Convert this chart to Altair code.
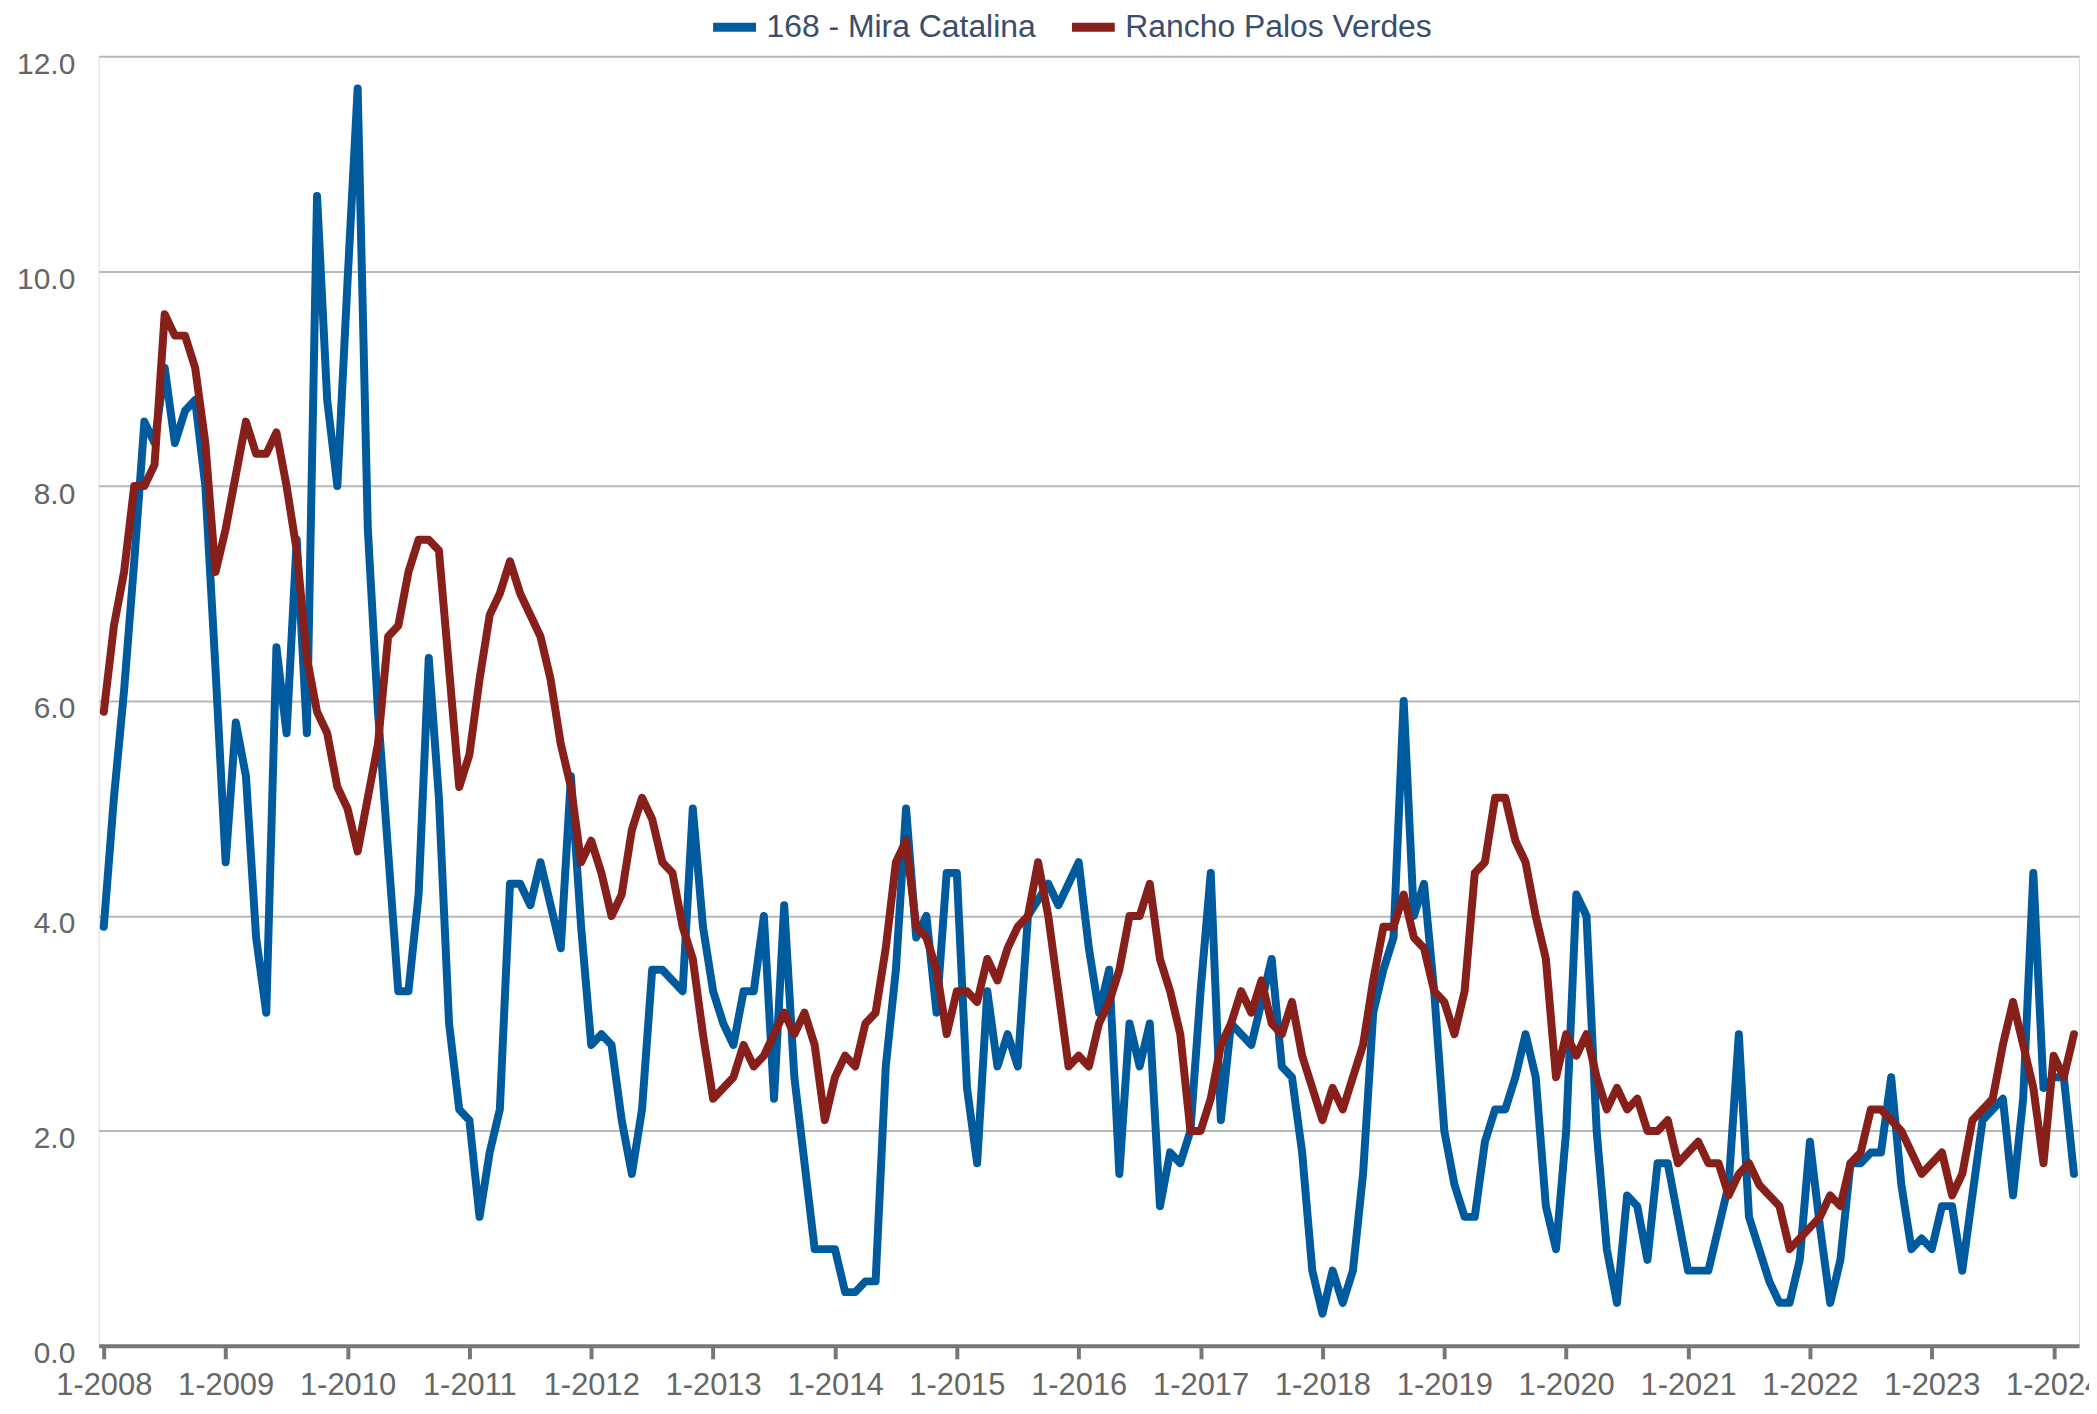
import altair as alt
import pandas as pd

SERIES_A = "168 - Mira Catalina"
SERIES_B = "Rancho Palos Verdes"

# monthly values, 1-2008 .. 3-2024
mira = [
    3.9, 5.1, 6.1, 7.3, 8.6, 8.4, 9.1, 8.4, 8.7, 8.8, 8.0, 6.3,
    4.5, 5.8, 5.3, 3.8, 3.1, 6.5, 5.7, 7.5, 5.7, 10.7, 8.8, 8.0,
    9.9, 11.7, 7.6, 5.9, 4.6, 3.3, 3.3, 4.2, 6.4, 5.1, 3.0, 2.2,
    2.1, 1.2, 1.8, 2.2, 4.3, 4.3, 4.1, 4.5, 4.1, 3.7, 5.3, 3.9,
    2.8, 2.9, 2.8, 2.1, 1.6, 2.2, 3.5, 3.5, 3.4, 3.3, 5.0, 3.9,
    3.3, 3.0, 2.8, 3.3, 3.3, 4.0, 2.3, 4.1, 2.5, 1.7, 0.9, 0.9,
    0.9, 0.5, 0.5, 0.6, 0.6, 2.6, 3.5, 5.0, 3.8, 4.0, 3.1, 4.4,
    4.4, 2.4, 1.7, 3.3, 2.6, 2.9, 2.6, 4.0, 4.15, 4.3, 4.1, 4.3,
    4.5, 3.7, 3.1, 3.5, 1.6, 3.0, 2.6, 3.0, 1.3, 1.8, 1.7, 2.0,
    3.3, 4.4, 2.1, 3.0, 2.9, 2.8, 3.2, 3.6, 2.6, 2.5, 1.8, 0.7,
    0.3, 0.7, 0.4, 0.7, 1.6, 3.1, 3.5, 3.8, 6.0, 4.0, 4.3, 3.3,
    2.0, 1.5, 1.2, 1.2, 1.9, 2.2, 2.2, 2.5, 2.9, 2.5, 1.3, 0.9,
    2.0, 4.2, 4.0, 2.0, 0.9, 0.4, 1.4, 1.3, 0.8, 1.7, 1.7, 1.2,
    0.7, 0.7, 0.7, 1.1, 1.5, 2.9, 1.2, 0.9, 0.6, 0.4, 0.4, 0.8,
    1.9, 1.1, 0.4, 0.8, 1.7, 1.7, 1.8, 1.8, 2.5, 1.5, 0.9, 1.0,
    0.9, 1.3, 1.3, 0.7, 1.4, 2.1, 2.2, 2.3, 1.4, 2.3, 4.4, 2.4,
    2.5, 2.5, 1.6,
]

rancho = [
    5.9, 6.7, 7.2, 8.0, 8.0, 8.2, 9.6, 9.4, 9.4, 9.1, 8.4, 7.2,
    7.6, 8.1, 8.6, 8.3, 8.3, 8.5, 8.0, 7.4, 6.4, 5.9, 5.7, 5.2,
    5.0, 4.6, 5.1, 5.6, 6.6, 6.7, 7.2, 7.5, 7.5, 7.4, 6.3, 5.2,
    5.5, 6.2, 6.8, 7.0, 7.3, 7.0, 6.8, 6.6, 6.2, 5.6, 5.2, 4.5,
    4.7, 4.4, 4.0, 4.2, 4.8, 5.1, 4.9, 4.5, 4.4, 3.9, 3.6, 2.9,
    2.3, 2.4, 2.5, 2.8, 2.6, 2.7, 2.9, 3.1, 2.9, 3.1, 2.8, 2.1,
    2.5, 2.7, 2.6, 3.0, 3.1, 3.7, 4.5, 4.7, 3.9, 3.8, 3.5, 2.9,
    3.3, 3.3, 3.2, 3.6, 3.4, 3.7, 3.9, 4.0, 4.5, 4.0, 3.3, 2.6,
    2.7, 2.6, 3.0, 3.2, 3.5, 4.0, 4.0, 4.3, 3.6, 3.3, 2.9, 2.0,
    2.0, 2.3, 2.8, 3.0, 3.3, 3.1, 3.4, 3.0, 2.9, 3.2, 2.7, 2.4,
    2.1, 2.4, 2.2, 2.5, 2.8, 3.4, 3.9, 3.9, 4.2, 3.8, 3.7, 3.3,
    3.2, 2.9, 3.3, 4.4, 4.5, 5.1, 5.1, 4.7, 4.5, 4.0, 3.6, 2.5,
    2.9, 2.7, 2.9, 2.5, 2.2, 2.4, 2.2, 2.3, 2.0, 2.0, 2.1, 1.7,
    1.8, 1.9, 1.7, 1.7, 1.4, 1.6, 1.7, 1.5, 1.4, 1.3, 0.9, 1.0,
    1.1, 1.2, 1.4, 1.3, 1.7, 1.8, 2.2, 2.2, 2.1, 2.0, 1.8, 1.6,
    1.7, 1.8, 1.4, 1.6, 2.1, 2.2, 2.3, 2.8, 3.2, 2.8, 2.4, 1.7,
    2.7, 2.5, 2.9,
]

START_YEAR = 2008
tick_months = list(range(0, len(mira), 12))
y_ticks = [0, 2, 4, 6, 8, 10, 12]

rows = []
for i, v in enumerate(mira):
    rows.append({"m": i, "series": SERIES_A, "value": v})
for i, v in enumerate(rancho):
    rows.append({"m": i, "series": SERIES_B, "value": v})
df = pd.DataFrame(rows)

FONT = "Liberation Sans"

chart = (
    alt.Chart(df)
    .mark_line(strokeWidth=8, strokeJoin="round", strokeCap="round")
    .encode(
        x=alt.X(
            "m:Q",
            scale=alt.Scale(domain=[-0.5, len(mira) - 0.5], nice=False, zero=False),
            axis=alt.Axis(
                values=tick_months,
                labelExpr=f"'1-' + ({START_YEAR} + floor(datum.value / 12))",
                title=None,
                grid=False,
                domainColor="#777777",
                domainWidth=4,
                tickColor="#777777",
                tickWidth=4,
                tickSize=13,
                labelFont=FONT,
                labelFontSize=31,
                labelColor="#666666",
                labelPadding=12,
                labelFlush=False,
                labelOverlap=False,
                labelBound=False,
            ),
        ),
        y=alt.Y(
            "value:Q",
            scale=alt.Scale(domain=[0, 12], nice=False),
            axis=alt.Axis(
                values=y_ticks,
                format=".1f",
                title=None,
                grid=True,
                gridColor="#b8b8b8",
                gridWidth=2,
                domain=False,
                ticks=False,
                tickSize=0,
                labelFont=FONT,
                labelFontSize=30,
                labelColor="#666666",
                labelPadding=24,
                labelOffset=8,
            ),
        ),
        color=alt.Color(
            "series:N",
            scale=alt.Scale(domain=[SERIES_A, SERIES_B], range=["#005a9e", "#871f1b"]),
            legend=alt.Legend(
                orient="none",
                legendX=612,
                legendY=-55,
                direction="horizontal",
                title=None,
                symbolType="stroke",
                symbolStrokeWidth=9,
                symbolSize=1849,
                labelFont=FONT,
                labelFontSize=32,
                labelColor="#3a4d6b",
                labelOffset=6,
                columnPadding=17,
                padding=0,
                labelLimit=0,
            ),
        ),
        order=alt.Order("m:Q"),
    )
    .properties(
        width=1987,
        height=1294,
        autosize=alt.AutoSizeParams(type="none"),
        padding={"left": 91, "top": 46, "right": 10, "bottom": 57},
    )
    .configure_view(stroke=None)
    .configure(background="white")
)

chart.save("out.html", embed_options={"renderer": "svg", "actions": False})
